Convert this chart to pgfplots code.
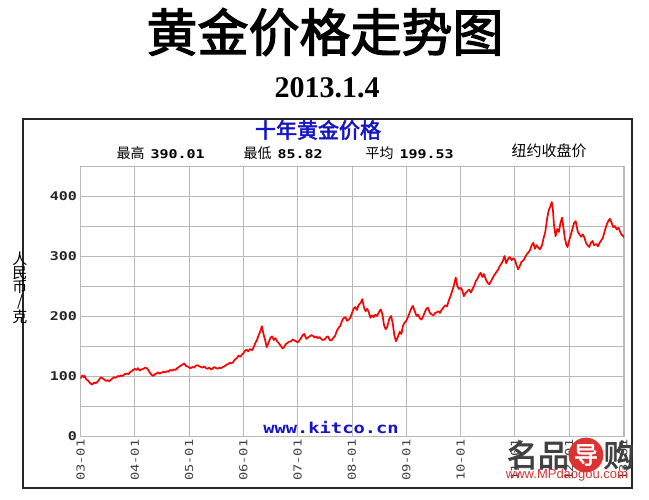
\documentclass[border=0pt]{standalone}
\usepackage{pgfplots}
\pgfplotsset{compat=1.18}
\usepackage{fontspec}
\setmainfont{Liberation Serif}
\newfontfamily\cjk{Noto Sans CJK SC}
\newfontfamily\cjkb[FakeBold=2.5]{Noto Sans CJK SC}
\newfontfamily\mono[FakeStretch=1.25]{DejaVu Sans Mono}
\newfontfamily\wsans{Liberation Sans}
\definecolor{kblue}{RGB}{20,20,200}
\definecolor{gridgray}{RGB}{185,185,185}
\definecolor{wred}{RGB}{220,50,50}
\begin{document}
\begin{tikzpicture}[x=1pt,y=1pt]
\fill[white] (0,0) rectangle (649,500);
\path[use as bounding box] (0,0) rectangle (649,500);
% titles
\node at (325,468) {\cjkb\fontsize{51}{51}\selectfont 黄金价格走势图};
\node at (327,412) {\bfseries\fontsize{30}{30}\selectfont 2013.1.4};
% outer frame
\draw[line width=1.5pt, black!85] (23,12) rectangle (632,381);
\node[text=kblue] at (318,370) {\cjkb\fontsize{21}{21}\selectfont 十年黄金价格};
\node[anchor=west] at (113,347) {\cjk\fontsize{14}{14}\selectfont 最高\hspace{6pt}{\mono\bfseries\fontsize{12}{12}\selectfont 390.01}};
\node[anchor=west] at (240,347) {\cjk\fontsize{14}{14}\selectfont 最低\hspace{6pt}{\mono\bfseries\fontsize{12}{12}\selectfont 85.82}};
\node[anchor=west] at (362,347) {\cjk\fontsize{14}{14}\selectfont 平均\hspace{6pt}{\mono\bfseries\fontsize{12}{12}\selectfont 199.53}};
\node[anchor=west] at (508,349) {\cjk\fontsize{15}{15}\selectfont 纽约收盘价};
\node[align=center, font=\cjk\fontsize{15}{14}\selectfont] at (20,212) {人\\民\\币\\/\\克};
\begin{axis}[
  at={(80.5pt,64pt)}, anchor=south west,
  scale only axis, width=543.5pt, height=270pt,
  xmin=2003, xmax=2013.01, ymin=0, ymax=450,
  xtick={2003,2004,2005,2006,2007,2008,2009,2010,2011,2012,2013},
  xticklabels={03-01,04-01,05-01,06-01,07-01,08-01,09-01,10-01,11-01,12-01,13-01},
  ytick={0,50,100,150,200,250,300,350,400,450},
  yticklabels={0,,100,,200,,300,,400,},
  grid=major,
  major grid style={gridgray, line width=0.9pt},
  axis line style={gridgray, line width=0.9pt},
  major tick length=0pt,
  x tick label style={rotate=90, anchor=east, text=black!75,
    font=\mono\fontsize{11}{11}\selectfont},
  y tick label style={text=black!85, font=\mono\bfseries\fontsize{12}{12}\selectfont},
]
\addplot[color=red, line width=1.7pt, mark=none, line join=round] coordinates {
(2003.00,96) (2003.02,99) (2003.04,101) (2003.06,98) (2003.08,100) (2003.10,95)
(2003.13,93) (2003.16,90) (2003.19,87) (2003.22,86) (2003.25,89) (2003.28,88)
(2003.32,91) (2003.35,95) (2003.38,98) (2003.41,96) (2003.44,94) (2003.47,92)
(2003.50,93) (2003.53,91) (2003.56,94) (2003.59,96) (2003.62,98) (2003.65,97)
(2003.69,100) (2003.72,99) (2003.75,101) (2003.78,100) (2003.81,103) (2003.85,104)
(2003.88,103) (2003.91,106) (2003.94,108) (2003.97,110)
(2004.00,112) (2004.03,110) (2004.06,113) (2004.09,109) (2004.12,111) (2004.16,112)
(2004.19,114) (2004.22,113) (2004.25,110) (2004.28,105) (2004.31,102) (2004.34,100)
(2004.37,103) (2004.40,104) (2004.43,106) (2004.46,104) (2004.50,106) (2004.53,107)
(2004.56,106) (2004.59,108) (2004.62,107) (2004.65,110) (2004.69,109) (2004.72,111)
(2004.75,110) (2004.78,113) (2004.81,115) (2004.84,117) (2004.88,119) (2004.91,121)
(2004.94,117) (2004.97,116)
(2005.00,114) (2005.03,113) (2005.06,115) (2005.09,114) (2005.12,117) (2005.16,118)
(2005.19,116) (2005.22,115) (2005.25,114) (2005.28,116) (2005.31,113) (2005.34,112)
(2005.37,114) (2005.40,111) (2005.43,112) (2005.46,115) (2005.50,113) (2005.53,112)
(2005.56,114) (2005.59,113) (2005.62,115) (2005.65,116) (2005.69,119) (2005.72,120)
(2005.75,122) (2005.78,121) (2005.81,123) (2005.84,127) (2005.88,130) (2005.91,134)
(2005.94,132) (2005.97,135)
(2006.00,138) (2006.03,142) (2006.06,144) (2006.09,141) (2006.12,145) (2006.16,143)
(2006.19,148) (2006.22,155) (2006.25,160) (2006.28,168) (2006.31,174) (2006.34,183)
(2006.37,170) (2006.40,160) (2006.43,148) (2006.46,155) (2006.50,164) (2006.53,166)
(2006.56,160) (2006.59,163) (2006.62,158) (2006.65,155) (2006.69,150) (2006.72,146)
(2006.75,148) (2006.78,153) (2006.81,155) (2006.84,157) (2006.88,158) (2006.91,161)
(2006.94,159) (2006.97,158)
(2007.00,156) (2007.03,159) (2007.06,163) (2007.09,168) (2007.12,170) (2007.16,162)
(2007.19,164) (2007.22,166) (2007.25,168) (2007.28,167) (2007.31,164) (2007.34,166)
(2007.37,163) (2007.40,165) (2007.43,162) (2007.46,160) (2007.50,161) (2007.53,165)
(2007.56,166) (2007.59,160) (2007.62,159) (2007.65,163) (2007.69,167) (2007.72,175)
(2007.75,180) (2007.78,183) (2007.81,190) (2007.84,196) (2007.88,198) (2007.91,192)
(2007.94,194) (2007.97,197)
(2008.00,205) (2008.03,212) (2008.06,215) (2008.09,210) (2008.12,218) (2008.16,222)
(2008.19,228) (2008.22,215) (2008.25,208) (2008.28,212) (2008.31,206) (2008.34,197)
(2008.37,201) (2008.40,198) (2008.43,202) (2008.46,200) (2008.50,207) (2008.53,211)
(2008.56,203) (2008.59,185) (2008.62,178) (2008.65,182) (2008.69,196) (2008.72,200)
(2008.75,188) (2008.78,168) (2008.81,158) (2008.84,164) (2008.88,174) (2008.91,170)
(2008.94,184) (2008.97,189)
(2009.00,192) (2009.03,198) (2009.06,205) (2009.09,212) (2009.12,217) (2009.16,207)
(2009.19,200) (2009.22,202) (2009.25,196) (2009.28,194) (2009.31,199) (2009.34,206)
(2009.37,212) (2009.40,214) (2009.43,206) (2009.46,203) (2009.50,201) (2009.53,205)
(2009.56,206) (2009.59,208) (2009.62,205) (2009.65,210) (2009.69,215) (2009.72,218)
(2009.75,216) (2009.78,225) (2009.81,232) (2009.84,240) (2009.88,252) (2009.91,264)
(2009.94,250) (2009.97,245)
(2010.00,247) (2010.03,243) (2010.06,233) (2010.09,238) (2010.12,241) (2010.16,244)
(2010.19,239) (2010.22,245) (2010.25,250) (2010.28,258) (2010.31,262) (2010.34,268)
(2010.37,272) (2010.40,265) (2010.43,270) (2010.46,262) (2010.50,255) (2010.53,253)
(2010.56,258) (2010.59,263) (2010.62,268) (2010.65,272) (2010.69,277) (2010.72,283)
(2010.75,287) (2010.78,292) (2010.81,300) (2010.84,288) (2010.88,296) (2010.91,298)
(2010.94,293) (2010.97,296)
(2011.00,294) (2011.03,285) (2011.06,278) (2011.09,283) (2011.12,290) (2011.16,293)
(2011.19,298) (2011.22,303) (2011.25,306) (2011.28,310) (2011.31,318) (2011.34,322)
(2011.37,312) (2011.40,318) (2011.43,314) (2011.46,311) (2011.50,318) (2011.53,330)
(2011.56,340) (2011.59,360) (2011.62,375) (2011.65,382) (2011.68,390) (2011.70,378)
(2011.72,352) (2011.75,333) (2011.78,345) (2011.81,340) (2011.84,355) (2011.87,364)
(2011.89,350) (2011.92,330) (2011.95,318) (2011.97,315)
(2012.00,326) (2012.03,335) (2012.06,345) (2012.09,355) (2012.12,358) (2012.16,340)
(2012.19,336) (2012.22,332) (2012.25,336) (2012.28,331) (2012.31,322) (2012.34,318)
(2012.37,315) (2012.40,322) (2012.43,325) (2012.46,318) (2012.50,320) (2012.53,316)
(2012.56,322) (2012.59,326) (2012.62,330) (2012.65,340) (2012.69,352) (2012.72,358)
(2012.75,362) (2012.78,356) (2012.81,348) (2012.84,350) (2012.88,344) (2012.91,347)
(2012.94,340) (2012.97,335) (2013.00,333) (2013.01,331)
};
\end{axis}
\node[text=kblue] at (331,72) {\mono\bfseries\fontsize{15}{15}\selectfont www.kitco.cn};
% watermark
\node[text=black!75] at (538,45) {\cjkb\fontsize{31}{31}\selectfont 名品};
\node[circle, fill=wred, inner sep=1pt, text=white] at (586,45) {\cjkb\fontsize{24}{24}\selectfont 导};
\node[text=black!75] at (619,45) {\cjkb\fontsize{31}{31}\selectfont 购};
\node[text=wred] at (567,25) {\wsans\fontsize{13}{13}\selectfont www.MPdaogou.com};
\end{tikzpicture}
\end{document}
